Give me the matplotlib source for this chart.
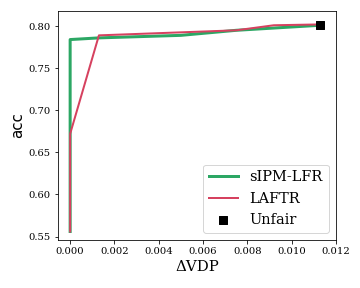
import matplotlib.pyplot as plt

# sIPM-LFR
sipm_dvdp = [0.0, 0.0, 0.0013, 0.0050, 0.0075, 0.0113]
sipm_acc = [0.556, 0.784, 0.786, 0.789, 0.795, 0.801]
# LAFTR
laftr_dvdp = [0.0, 0.0, 0.0013, 0.0075, 0.0092, 0.0113]
laftr_acc = [0.556, 0.672, 0.789, 0.795, 0.801, 0.802]
# Unfair
unfair_dvdp = [0.0113]
unfair_acc = [0.801]

plt.rcParams['font.family'] = 'DejaVu Serif'
fig, ax = plt.subplots(figsize=(5, 4), dpi=72)
ax.plot(sipm_dvdp, sipm_acc, color='#2ca764', lw=3, label='sIPM-LFR')
ax.plot(laftr_dvdp, laftr_acc, color='#d6415f', lw=2, label='LAFTR')
ax.scatter(unfair_dvdp, unfair_acc, marker='s', color='black', s=50, zorder=3, label='Unfair')
ax.set_xlim(-0.00055, 0.012)
ax.set_ylim(0.546, 0.818)
ax.set_xticks([0.0, 0.002, 0.004, 0.006, 0.008, 0.010, 0.012])
ax.tick_params(labelsize=10)
ax.set_xlabel('ΔVDP', fontsize=15)
ax.set_ylabel('acc', fontsize=15, family='DejaVu Sans')
ax.legend(loc='lower right', fontsize=14.5)
fig.subplots_adjust(left=0.161, right=0.933, top=0.962, bottom=0.167)
fig.savefig('out.png', dpi=72)
